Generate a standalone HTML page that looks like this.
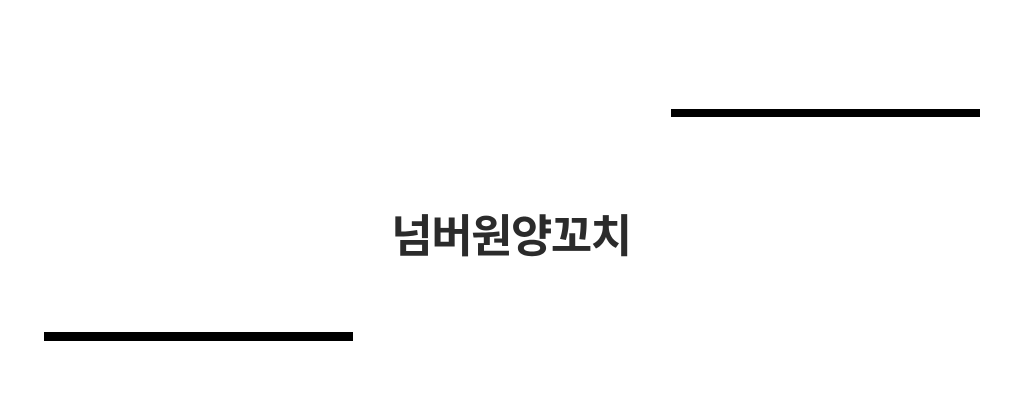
<!DOCTYPE html>
<html lang="ko">
<head>
<meta charset="utf-8">
<style>
html,body{margin:0;padding:0;background:#fff;width:1024px;height:406px;overflow:hidden}
.bar{position:absolute;background:#000;height:8px;width:309px}
.t{position:absolute;left:311px;width:400px;top:205px;height:64px;line-height:64px;text-align:center;font-family:"Liberation Sans","Noto Sans CJK KR",sans-serif;font-weight:700;font-size:45px;letter-spacing:-1.5px;color:#2b2b2b;white-space:nowrap}
</style>
</head>
<body>
<div class="bar" style="left:671px;top:109px"></div>
<div class="bar" style="left:44px;top:332px;height:9px"></div>
<div class="t">넘버원양꼬치</div>
</body>
</html>
